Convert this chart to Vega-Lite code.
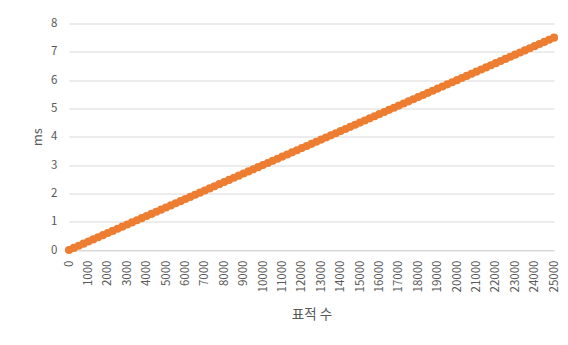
{
  "$schema": "https://vega.github.io/schema/vega-lite/v6.json",
  "width": 485,
  "height": 226.5,
  "autosize": "none",
  "padding": {"left": 69, "top": 23.5, "right": 14, "bottom": 95},
  "background": "white",
  "config": {
    "view": {"stroke": null},
    "font": "Noto Sans CJK KR"
  },
  "data": {
    "values": [
      {"targets": 0, "ms": 0}, {"targets": 250, "ms": 0.075}, {"targets": 500, "ms": 0.15}, {"targets": 750, "ms": 0.225},
      {"targets": 1000, "ms": 0.3}, {"targets": 1250, "ms": 0.375}, {"targets": 1500, "ms": 0.45}, {"targets": 1750, "ms": 0.525},
      {"targets": 2000, "ms": 0.6}, {"targets": 2250, "ms": 0.675}, {"targets": 2500, "ms": 0.75}, {"targets": 2750, "ms": 0.825},
      {"targets": 3000, "ms": 0.9}, {"targets": 3250, "ms": 0.975}, {"targets": 3500, "ms": 1.05}, {"targets": 3750, "ms": 1.125},
      {"targets": 4000, "ms": 1.2}, {"targets": 4250, "ms": 1.275}, {"targets": 4500, "ms": 1.35}, {"targets": 4750, "ms": 1.425},
      {"targets": 5000, "ms": 1.5}, {"targets": 5250, "ms": 1.575}, {"targets": 5500, "ms": 1.65}, {"targets": 5750, "ms": 1.725},
      {"targets": 6000, "ms": 1.8}, {"targets": 6250, "ms": 1.875}, {"targets": 6500, "ms": 1.95}, {"targets": 6750, "ms": 2.025},
      {"targets": 7000, "ms": 2.1}, {"targets": 7250, "ms": 2.175}, {"targets": 7500, "ms": 2.25}, {"targets": 7750, "ms": 2.325},
      {"targets": 8000, "ms": 2.4}, {"targets": 8250, "ms": 2.475}, {"targets": 8500, "ms": 2.55}, {"targets": 8750, "ms": 2.625},
      {"targets": 9000, "ms": 2.7}, {"targets": 9250, "ms": 2.775}, {"targets": 9500, "ms": 2.85}, {"targets": 9750, "ms": 2.925},
      {"targets": 10000, "ms": 3.0}, {"targets": 10250, "ms": 3.075}, {"targets": 10500, "ms": 3.15}, {"targets": 10750, "ms": 3.225},
      {"targets": 11000, "ms": 3.3}, {"targets": 11250, "ms": 3.375}, {"targets": 11500, "ms": 3.45}, {"targets": 11750, "ms": 3.525},
      {"targets": 12000, "ms": 3.6}, {"targets": 12250, "ms": 3.675}, {"targets": 12500, "ms": 3.75}, {"targets": 12750, "ms": 3.825},
      {"targets": 13000, "ms": 3.9}, {"targets": 13250, "ms": 3.975}, {"targets": 13500, "ms": 4.05}, {"targets": 13750, "ms": 4.125},
      {"targets": 14000, "ms": 4.2}, {"targets": 14250, "ms": 4.275}, {"targets": 14500, "ms": 4.35}, {"targets": 14750, "ms": 4.425},
      {"targets": 15000, "ms": 4.5}, {"targets": 15250, "ms": 4.575}, {"targets": 15500, "ms": 4.65}, {"targets": 15750, "ms": 4.725},
      {"targets": 16000, "ms": 4.8}, {"targets": 16250, "ms": 4.875}, {"targets": 16500, "ms": 4.95}, {"targets": 16750, "ms": 5.025},
      {"targets": 17000, "ms": 5.1}, {"targets": 17250, "ms": 5.175}, {"targets": 17500, "ms": 5.25}, {"targets": 17750, "ms": 5.325},
      {"targets": 18000, "ms": 5.4}, {"targets": 18250, "ms": 5.475}, {"targets": 18500, "ms": 5.55}, {"targets": 18750, "ms": 5.625},
      {"targets": 19000, "ms": 5.7}, {"targets": 19250, "ms": 5.775}, {"targets": 19500, "ms": 5.85}, {"targets": 19750, "ms": 5.925},
      {"targets": 20000, "ms": 6.0}, {"targets": 20250, "ms": 6.075}, {"targets": 20500, "ms": 6.15}, {"targets": 20750, "ms": 6.225},
      {"targets": 21000, "ms": 6.3}, {"targets": 21250, "ms": 6.375}, {"targets": 21500, "ms": 6.45}, {"targets": 21750, "ms": 6.525},
      {"targets": 22000, "ms": 6.6}, {"targets": 22250, "ms": 6.675}, {"targets": 22500, "ms": 6.75}, {"targets": 22750, "ms": 6.825},
      {"targets": 23000, "ms": 6.9}, {"targets": 23250, "ms": 6.975}, {"targets": 23500, "ms": 7.05}, {"targets": 23750, "ms": 7.125},
      {"targets": 24000, "ms": 7.2}, {"targets": 24250, "ms": 7.275}, {"targets": 24500, "ms": 7.35}, {"targets": 24750, "ms": 7.425},
      {"targets": 25000, "ms": 7.5}
    ]
  },
  "encoding": {
    "x": {
      "field": "targets",
      "type": "quantitative",
      "title": "표적 수",
      "scale": {"domain": [0, 25000], "nice": false, "zero": true},
      "axis": {
        "values": [0, 1000, 2000, 3000, 4000, 5000, 6000, 7000, 8000, 9000, 10000, 11000, 12000, 13000, 14000, 15000, 16000, 17000, 18000, 19000, 20000, 21000, 22000, 23000, 24000, 25000],
        "format": "d",
        "labelAngle": -90,
        "labelPadding": 10,
        "labelFontSize": 11.5,
        "labelColor": "#595959",
        "labelFlush": false,
        "labelOverlap": false,
        "ticks": false,
        "grid": false,
        "domainColor": "#d9d9d9",
        "domainWidth": 1,
        "titleFontSize": 13.5,
        "titleFontWeight": "normal",
        "titleColor": "#595959",
        "titleBaseline": "middle",
        "titleY": 64
      }
    },
    "y": {
      "field": "ms",
      "type": "quantitative",
      "title": "ms",
      "scale": {"domain": [0, 8], "nice": false},
      "axis": {
        "values": [0, 1, 2, 3, 4, 5, 6, 7, 8],
        "labelPadding": 12,
        "labelFontSize": 11.5,
        "labelColor": "#595959",
        "ticks": false,
        "domain": false,
        "grid": true,
        "gridColor": "#d9d9d9",
        "gridWidth": 1,
        "titleFontSize": 13,
        "titleFontWeight": "normal",
        "titleColor": "#595959",
        "titleAngle": -90,
        "titleBaseline": "middle",
        "titleX": -32
      }
    }
  },
  "layer": [
    {
      "mark": {"type": "line", "color": "#ED7D31", "strokeWidth": 5}
    },
    {
      "mark": {"type": "point", "shape": "circle", "filled": true, "color": "#ED7D31", "opacity": 1, "size": 66}
    }
  ]
}
